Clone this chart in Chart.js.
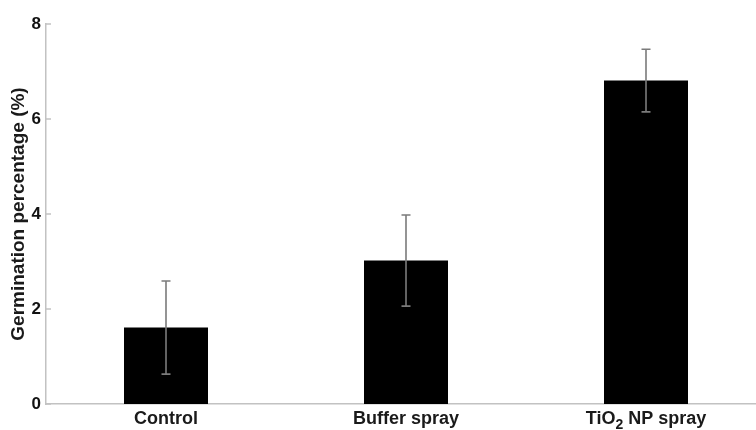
<!DOCTYPE html>
<html>
<head>
<meta charset="utf-8">
<script src="https://cdn.jsdelivr.net/npm/chart.js@4"></script>
<style>
  html, body { margin: 0; padding: 0; background: #fff; }
  #wrap { width: 756px; height: 430px; overflow: hidden; position: relative; }
  canvas { display: block; }
</style>
</head>
<body>
<div id="wrap">
  <canvas id="germChart" width="766" height="430"></canvas>
</div>
<script>
// Germination data
const categories = ['Control', 'Buffer spray', 'TiO2 NP spray'];
const meanValues = [1.61, 3.02, 6.81];
const errorValues = [0.98, 0.96, 0.66];
const yTicks = [0, 2, 4, 6, 8];

const FONT = '"Liberation Sans", Arial, sans-serif';
const AXIS_GREY = '#c2c2c2';
const LABEL_SIZE = 18;

// Draw a category label; the "2" after "TiO" is set as a subscript
function drawCategoryLabel(ctx, text, cx, baseline) {
    const main = 'bold ' + LABEL_SIZE + 'px ' + FONT;
    const sub = 'bold ' + Math.round(LABEL_SIZE * 0.78) + 'px ' + FONT;
    const m = text.match(/^(.*?O)2(.*)$/);
    let parts = m ? [[m[1], main, 0], ['2', sub, 5], [m[2], main, 0]] : [[text, main, 0]];

    let total = 0;
    parts.forEach(p => { ctx.font = p[1]; total += ctx.measureText(p[0]).width; });
    let x = cx - total / 2;
    ctx.textAlign = 'left';
    ctx.textBaseline = 'alphabetic';
    parts.forEach(p => {
        ctx.font = p[1];
        ctx.fillText(p[0], x, baseline + p[2]);
        x += ctx.measureText(p[0]).width;
    });
}

// Error bars, inward tick marks on the y axis and the x labels
const errorBarPlugin = {
    id: 'errorBars',
    afterDatasetsDraw(chart) {
        const ctx = chart.ctx;
        const xs = chart.scales.x;
        const ys = chart.scales.y;
        const area = chart.chartArea;

        ctx.save();
        ctx.strokeStyle = AXIS_GREY;
        ctx.lineWidth = 1.5;
        yTicks.forEach(v => {
            const y = ys.getPixelForValue(v);
            ctx.beginPath();
            ctx.moveTo(area.left, y);
            ctx.lineTo(area.left + 5, y);
            ctx.stroke();
        });

        ctx.strokeStyle = '#7b7b7b';
        ctx.lineWidth = 1.6;
        meanValues.forEach((m, i) => {
            const x = xs.getPixelForValue(i);
            const top = ys.getPixelForValue(m + errorValues[i]);
            const bot = ys.getPixelForValue(m - errorValues[i]);
            ctx.beginPath();
            ctx.moveTo(x, top);
            ctx.lineTo(x, bot);
            ctx.moveTo(x - 4.5, top);
            ctx.lineTo(x + 4.5, top);
            ctx.moveTo(x - 4.5, bot);
            ctx.lineTo(x + 4.5, bot);
            ctx.stroke();
        });

        ctx.fillStyle = '#1a1a1a';
        categories.forEach((c, i) => {
            drawCategoryLabel(ctx, c, xs.getPixelForValue(i), area.bottom + 20);
        });
        ctx.restore();
    }
};

document.addEventListener('DOMContentLoaded', function() {
    const ctx = document.getElementById('germChart');

    new Chart(ctx.getContext('2d'), {
        type: 'bar',
        data: {
            labels: categories,
            datasets: [{
                data: meanValues,
                backgroundColor: '#000000',
                borderWidth: 0,
                barPercentage: 0.35,
                categoryPercentage: 1.0
            }]
        },
        options: {
            responsive: false,
            animation: false,
            layout: { padding: { top: 24, right: 0, bottom: 0, left: 0 } },
            plugins: {
                legend: { display: false },
                tooltip: { enabled: false }
            },
            scales: {
                x: {
                    offset: true,
                    grid: { display: false, drawTicks: false },
                    border: { color: AXIS_GREY, width: 1.5 },
                    ticks: { display: false },
                    afterFit(scale) { scale.height = 26; }
                },
                y: {
                    min: 0,
                    max: 8,
                    afterBuildTicks(scale) {
                        scale.ticks = yTicks.map(v => ({ value: v }));
                    },
                    grid: { display: false, drawTicks: false },
                    border: { color: AXIS_GREY, width: 1.5 },
                    ticks: {
                        color: '#111111',
                        padding: 5,
                        font: { family: FONT, size: 17, weight: 'bold' }
                    },
                    title: {
                        display: true,
                        text: 'Germination percentage (%)',
                        color: '#1a1a1a',
                        padding: { top: 7, bottom: 0 },
                        font: { family: FONT, size: 19, weight: 'bold' }
                    },
                    afterFit(scale) { scale.width = 46; }
                }
            }
        },
        plugins: [errorBarPlugin]
    });
});
</script>
</body>
</html>
